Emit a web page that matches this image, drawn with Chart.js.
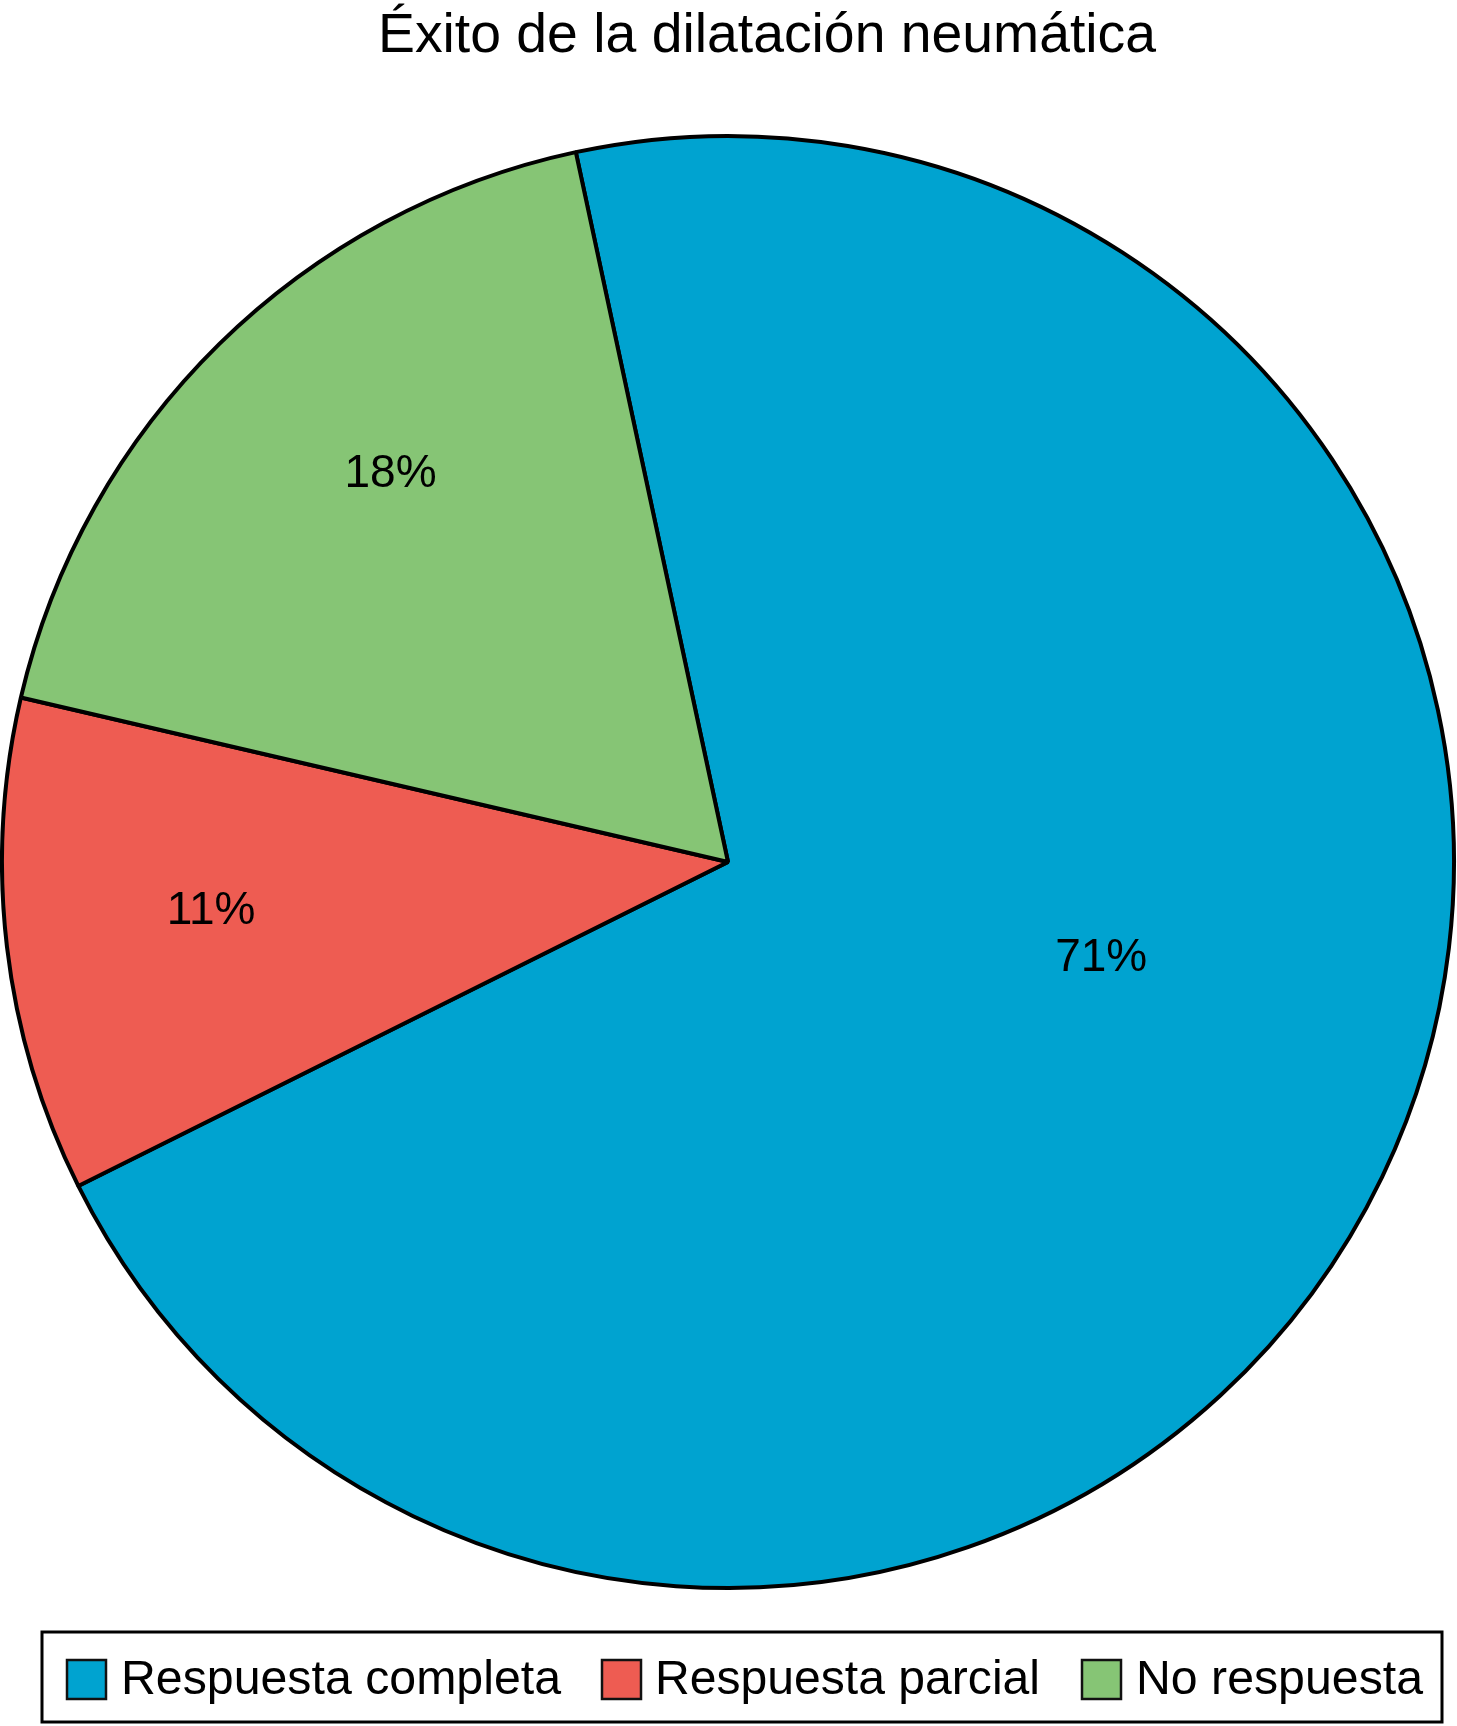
<!DOCTYPE html>
<html>
<head>
<meta charset="utf-8">
<script src="https://cdn.jsdelivr.net/npm/chart.js@4.4.0/dist/chart.umd.min.js"></script>
<style>
  html, body { margin: 0; padding: 0; background: #fff; }
  #wrap { width: 1457px; height: 1726px; }
</style>
</head>
<body>
<div id="wrap"><canvas id="pie" width="1457" height="1726"></canvas></div>
<script>
const chartTitle = 'Éxito de la dilatación neumática';
const categories = ['Respuesta completa', 'Respuesta parcial', 'No respuesta'];
const percentages = [71, 11, 18];
const sliceColors = ['#00A3D0', '#EE5C52', '#86C575'];

// label placement inside each slice (fraction of radius, angle shift in degrees)
const labelRadius = [0.53, 0.715, 0.71];
const labelShift = [-11.6, 1.5, 3.6];

const fontFamily = '"Liberation Sans", Arial, Helvetica, sans-serif';

const decorations = {
    id: 'decorations',
    afterDatasetsDraw(chart) {
        const ctx = chart.ctx;
        const meta = chart.getDatasetMeta(0);
        ctx.save();
        ctx.fillStyle = '#000';
        ctx.textAlign = 'center';
        ctx.textBaseline = 'alphabetic';

        // percentage labels
        ctx.font = '46px ' + fontFamily;
        meta.data.forEach((arc, i) => {
            const mid = (arc.startAngle + arc.endAngle) / 2 + labelShift[i] * Math.PI / 180;
            const r = arc.outerRadius * labelRadius[i];
            const x = arc.x + Math.cos(mid) * r;
            const y = arc.y + Math.sin(mid) * r;
            ctx.fillText(percentages[i] + '%', x, y + 15, 95);
        });

        // title
        ctx.font = '56px ' + fontFamily;
        ctx.fillText(chartTitle, 767, 52, 778);

        // legend with border
        ctx.lineWidth = 3;
        ctx.strokeStyle = '#000';
        ctx.strokeRect(42, 1632, 1400, 90);
        const boxX = [67, 602, 1082];
        const textX = [121, 655, 1136];
        const textW = [440, 385, 287];
        ctx.textAlign = 'left';
        ctx.font = '49px ' + fontFamily;
        categories.forEach((name, i) => {
            ctx.fillStyle = sliceColors[i];
            ctx.fillRect(67 + (boxX[i] - 67), 1660, 39, 39);
            ctx.lineWidth = 2.5;
            ctx.strokeStyle = '#111';
            ctx.strokeRect(boxX[i], 1660, 39, 39);
            ctx.fillStyle = '#000';
            ctx.fillText(name, textX[i], 1694, textW[i]);
        });
        ctx.restore();
    }
};

new Chart(document.getElementById('pie').getContext('2d'), {
    type: 'pie',
    data: {
        labels: categories,
        datasets: [{
            data: percentages,
            backgroundColor: sliceColors,
            borderColor: '#000',
            borderWidth: 4
        }]
    },
    options: {
        responsive: false,
        animation: false,
        rotation: -12.1,
        layout: {
            padding: { top: 134, bottom: 136, left: 0, right: 1 }
        },
        plugins: {
            legend: { display: false },
            title: { display: false },
            tooltip: { enabled: false }
        }
    },
    plugins: [decorations]
});
</script>
</body>
</html>
